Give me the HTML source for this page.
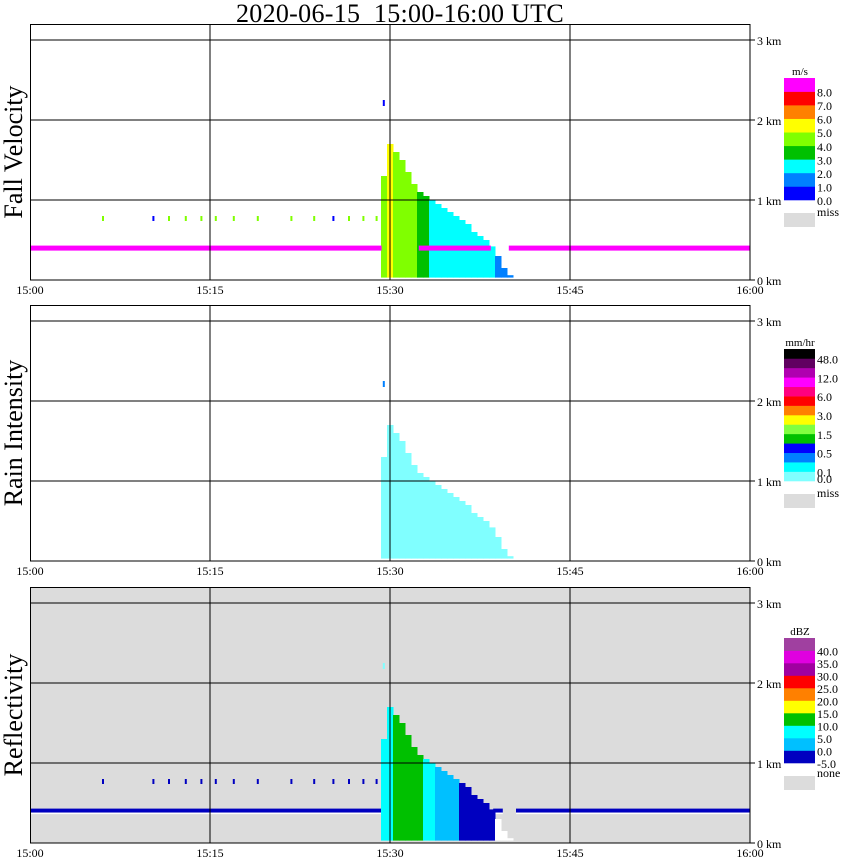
<!DOCTYPE html>
<html><head><meta charset="utf-8">
<style>
body{margin:0;background:#fff;}
svg{display:block;font-family:"Liberation Serif",serif;}
</style></head>
<body>
<svg id="c" width="850" height="868" viewBox="0 0 850 868"></svg>
<script>
// ---- data ----
const colTimes = [29.25,29.75,30.25,30.75,31.25,31.75,32.25,32.75,33.25,33.75,34.25,34.75,35.25,35.75,36.25,36.75,37.25,37.75,38.25,38.75,39.25,39.75];
const echoTops = [1.3,1.7,1.6,1.5,1.35,1.2,1.1,1.05,1.0,0.95,0.9,0.85,0.8,0.75,0.7,0.6,0.55,0.5,0.42,0.3,0.15,0.06];
const fallVel = [4.5,5.5,4.5,4.5,4.5,4.5,3.5,3.5,2.5,2.5,2.5,2.5,2.5,2.5,2.5,2.5,2.5,2.5,2.5,1.5,1.5,1.5];
const rainRate = [0.05,0.05,0.05,0.05,0.05,0.05,0.05,0.05,0.05,0.05,0.05,0.05,0.05,0.05,0.05,0.05,0.05,0.05,0.05,0.05,0.05,0.05];
const reflect = [7,7,12,12,12,12,12,7,7,2,2,2,2,-2,-2,-2,-2,-2,-2,-7,-7,-7];
const dashTimes = [6,10.2,11.5,12.9,14.2,15.4,16.9,18.9,21.7,23.6,25.2,26.5,27.7,28.8];
const dashVel = [4.5,0.5,4.5,4.5,4.5,4.5,4.5,4.5,4.5,4.5,0.5,4.5,4.5,4.5];
const bandHeight = 0.4;
const bandGapsVel = [[29.3,32.4],[38.4,39.9]];
const bandGapsDbz = [[29.3,38.6],[39.4,40.5]];
const xTicks = ["15:00","15:15","15:30","15:45","16:00"];
const yTicks = ["0 km","1 km","2 km","3 km"];
const velColors=["#0000ff","#0080ff","#00ffff","#00c000","#80ff00","#ffff00","#ff8000","#ff0000","#ff00ff"];
const velLabels=["0.0","1.0","2.0","3.0","4.0","5.0","6.0","7.0","8.0"];
const rainColors=["#80ffff","#00ffff","#0080ff","#0000ff","#00c000","#80ff40","#ffff00","#ff8000","#ff0000","#ff0080","#ff00ff","#b000b0","#600060","#000000"];
const rainLabels=["0.0","0.1","","0.5","","1.5","","3.0","","6.0","","12.0","","48.0"];
const rainBounds=[0,0.1,0.3,0.5,1,1.5,2,3,4,6,8,12,24,48];
const dbzColors=["#0000c0","#00c0ff","#00ffff","#00c000","#ffff00","#ff8000","#ff0000","#a000a0","#e000e0","#a040a0"];
const dbzLabels=["-5.0","0.0","5.0","10.0","15.0","20.0","25.0","30.0","35.0","40.0"];

// ---- helpers ----
const NS="http://www.w3.org/2000/svg", svg=document.getElementById('c');
function el(t,a,p){const e=document.createElementNS(NS,t);for(const k in a)e.setAttribute(k,a[k]);(p||svg).appendChild(e);return e;}
const X=t=>30+t*12;
const panels=[{b:280,name:"fall-velocity",title:"Fall Velocity"},{b:561,name:"rain-intensity",title:"Rain Intensity"},{b:843,name:"reflectivity",title:"Reflectivity"}];
const Y=(p,h)=>p.b-h*80;
const velColor=v=>velColors[Math.max(0,Math.min(8,Math.floor(v)))];
const rainColor=v=>{let i=0;for(let k=0;k<rainBounds.length;k++)if(v>=rainBounds[k])i=k;return rainColors[i];};
const dbzColor=v=>v< -5?"#ffffff":dbzColors[Math.min(9,Math.floor((v+5)/5))];

let t=el('text',{x:400,y:22,'font-size':26,'text-anchor':'middle','letter-spacing':'0.3','xml:space':'preserve',style:'white-space:pre'});
t.textContent="2020-06-15  15:00-16:00 UTC";



function drawBand(p,pi,g){
  const gaps=pi==0?bandGapsVel:bandGapsDbz;
  let segs=[[0,gaps[0][0]],[gaps[0][1],gaps[1][0]],[gaps[1][1],60]];
  segs.forEach(s=>{
    const r=el('rect',{x:X(s[0]),y:Y(p,bandHeight+0.03),width:X(s[1])-X(s[0]),height:pi==0?5:4,fill:pi==0?"#ff00ff":"#0000c0"},g);
    
    
    if(pi==2){const w=el('rect',{x:X(s[0]),y:Y(p,bandHeight-0.02),width:X(s[1])-X(s[0]),height:1.5,fill:"#fff"},g);
      
      }
  });
}

panels.forEach((p,pi)=>{
  const g=el('g',{});
  
  
  const top=p.b-256;
  const bg=el('rect',{x:30,y:top,width:720,height:256,fill:pi==2?"#dcdcdc":"#fff"},g);
  
  
  if(pi==2) drawBand(p,pi,g);
  if(pi!=1){
    dashTimes.forEach((dt,i)=>{
      const c=pi==0?velColor(dashVel[i]):"#0000c0";
      const r=el('rect',{x:X(dt),y:Y(p,0.8),width:2,height:5,fill:c},g);
      
      
    });
  }
  // echo columns
  colTimes.forEach((ct,i)=>{
    let c=pi==0?velColor(fallVel[i]):pi==1?rainColor(rainRate[i]):dbzColor(reflect[i]);
    const r=el('rect',{x:X(ct),y:Y(p,echoTops[i]),width:6.5,height:(echoTops[i]-0.03)*80,fill:c},g);
    
    
  });
  if(pi==0) drawBand(p,pi,g);
  const sp=el('rect',{x:X(29.4),y:Y(p,2.25),width:2,height:6,fill:pi==0?"#0000ff":pi==1?"#0080ff":"#80ffff"},g);
  
  
  // grid
  for(let k=1;k<=3;k++){const l=el('line',{x1:30,x2:750,y1:Y(p,k),y2:Y(p,k),stroke:"#000"},g);
    }
  for(let k=1;k<=3;k++){const l=el('line',{x1:X(k*15),x2:X(k*15),y1:top,y2:p.b,stroke:"#000"},g);
    }
  const fr=el('rect',{x:30.5,y:top+0.5,width:719.5,height:255.5,fill:"none",stroke:"#000"},g);
  
  xTicks.forEach((s,k)=>{const tx=el('text',{x:X(k*15),y:p.b+14,'font-size':12,'text-anchor':'middle'},g);tx.textContent=s;
    });
  yTicks.forEach((s,k)=>{
    el('line',{x1:750,x2:755,y1:Y(p,k),y2:Y(p,k),stroke:"#000"},g);
    const tx=el('text',{x:757,y:Y(p,k)+5,'font-size':12},g);tx.textContent=s;
    });
  const yt=el('text',{x:0,y:0,'font-size':26,'text-anchor':'middle',transform:`translate(22,${p.b-128}) rotate(-90)`},g);
  yt.textContent=p.title;
  
  // colorbar
  const cols=pi==0?velColors:pi==1?rainColors:dbzColors, labs=pi==0?velLabels:pi==1?rainLabels:dbzLabels;
  const unit=pi==0?"m/s":pi==1?"mm/hr":"dBZ";
  const cbBottom=p.b-80, cbTop=cbBottom-(pi==0?122:pi==1?132:124)+ (pi==2?-1:0);
  const h=(cbBottom-cbTop)/cols.length;
  const ut=el('text',{x:800,y:cbTop-3,'font-size':11,'text-anchor':'middle'},g);ut.textContent=unit;
  
  cols.forEach((c,k)=>{
    const r=el('rect',{x:784,y:cbBottom-(k+1)*h,width:31,height:h+0.3,fill:c},g);
    
    if(labs[k]){const lt=el('text',{x:817,y:cbBottom-k*h+(pi==1&&k==0?2:5),'font-size':12},g);lt.textContent=labs[k];
      }
  });
  const mr=el('rect',{x:784,y:cbBottom+13,width:31,height:14,fill:"#dcdcdc"},g);
  
  const mt=el('text',{x:817,y:cbBottom+(pi==2?14:16),'font-size':12},g);mt.textContent=pi==2?"none":"miss";
  
});
</script>
</body></html>
